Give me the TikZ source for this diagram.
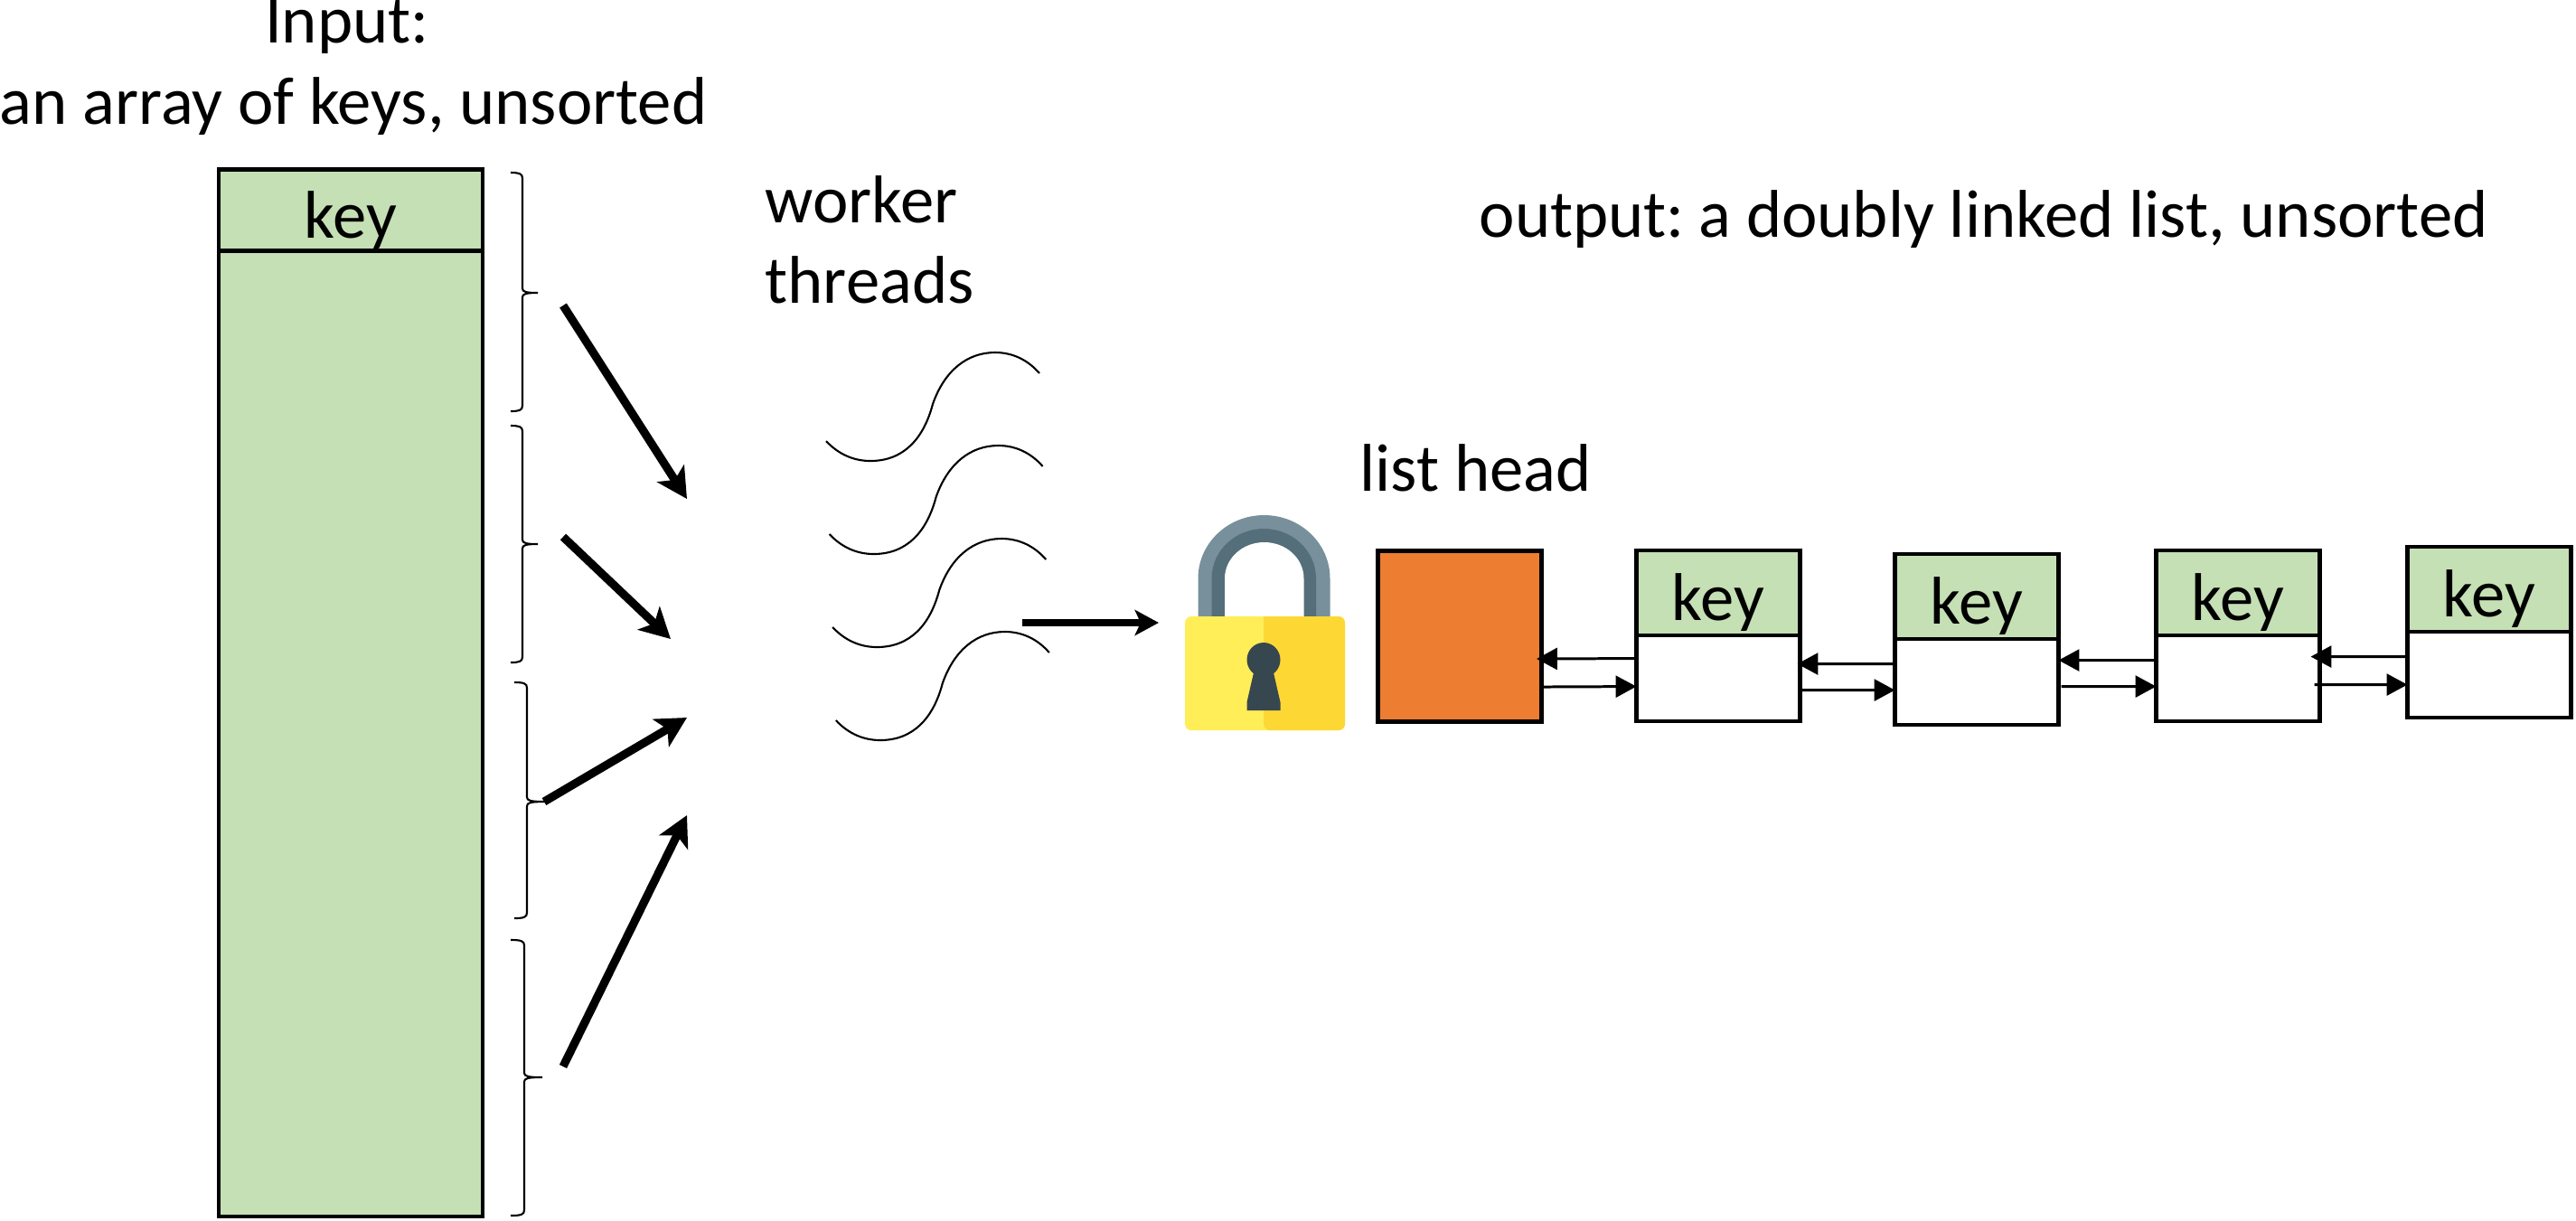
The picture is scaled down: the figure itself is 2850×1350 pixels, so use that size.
\documentclass[tikz,border=0pt]{standalone}
\usepackage{fontspec}
\setmainfont{Carlito}
\usetikzlibrary{positioning,arrows.meta}
\definecolor{keyGreen}{HTML}{C5E0B4}
\definecolor{headOrange}{HTML}{ED7D31}
\definecolor{lockLight}{HTML}{78909C}
\definecolor{lockDark}{HTML}{546E7A}
\definecolor{lockYellow}{HTML}{FFEE58}
\definecolor{lockGold}{HTML}{FDD835}
\definecolor{lockHole}{HTML}{37474F}
\begin{document}
\begin{tikzpicture}
[x=0.01cm,y=-0.01cm,
  labelDecorate/.style={inner sep=0pt,anchor=base west,font=\fontsize{21.25}{25.6}\selectfont},%
  keyDecorate/.style={shape=rectangle,draw,line width=1.2pt,fill=keyGreen,outer sep=0pt,inner sep=0pt,
    minimum width=1.81cm,minimum height=0.945cm,text height=21.6pt,text depth=4pt,
    font=\fontsize{21.25}{25.6}\selectfont},%
  cellDecorate/.style={shape=rectangle,draw,line width=1.2pt,fill=white,outer sep=0pt,
    minimum width=1.81cm,minimum height=0.945cm},%
  braceDecorate/.style={line width=0.6pt},%
  threadDecorate/.style={line width=0.6pt},%
  fatArrow/.style={-{Stealth[length=9.5pt,width=10pt,inset=2.4pt]},line width=2.6pt},%
  thinArrow/.style={-{Triangle[length=6.5pt,width=6.8pt]},line width=0.85pt}]
\useasboundingbox (0,0) rectangle (2850,1350);
%% input array
\node (arrayKey) at (388,232.5) [keyDecorate,minimum width=2.92cm,minimum height=0.89cm] {key};
\node (arrayBody) [cellDecorate,fill=keyGreen,below=0pt of arrayKey,minimum width=2.92cm,minimum height=10.68cm] {};
\node (inputLabel) at (391,75) [labelDecorate,anchor=center,align=center] {Input:\hspace*{4pt}\\an array of keys, unsorted};
%% braces
\foreach \xa/\xb/\xc/\ya/\yb/\yc in {
  565/578/595/191/324/455,
  565/578/595/471/602/733,
  569/583/604/755/887/1016,
  565/580/600/1040/1192/1345}
{
  \draw[braceDecorate] (\xa,\ya) .. controls (\xb-4,\ya) and (\xb,\ya+1) .. (\xb,\ya+6)
    -- (\xb,\yb-5) .. controls (\xb,\yb-1) and (\xb+4,\yb) .. (\xc,\yb)
    .. controls (\xb+4,\yb) and (\xb,\yb+1) .. (\xb,\yb+5)
    -- (\xb,\yc-6) .. controls (\xb,\yc-1) and (\xb-4,\yc) .. (\xa,\yc);
}
%% arrows to the threads
\foreach \arrowname/\xa/\ya/\xb/\yb in {
  1/623/338/760/552, 2/623/594/742/707, 3/602/887/760/794, 4/623/1180/760/902}
{
  \coordinate (chunk\arrowname) at (\xa,\ya);
  \coordinate (pick\arrowname) at (\xb,\yb);
  \draw[fatArrow] (chunk\arrowname) -- (pick\arrowname);
}
%% worker threads
\node (workerLabel) at (846,246) [labelDecorate] {worker};
\node (threadsLabel) at (846,335) [labelDecorate] {threads};
\foreach \i in {0,1,2,3}
{
  \draw[threadDecorate,xshift=3.6*\i*0.01cm,yshift=-103*\i*0.01cm]
    (914,488) .. controls (928,503) and (945,510) .. (963,510)
    .. controls (1000,510) and (1022,485) .. (1032,447)
    .. controls (1045,410) and (1070,390) .. (1101,390)
    .. controls (1120,390) and (1137,398) .. (1150,413);
}
\coordinate (threadsOut) at (1131,689);
\coordinate (lockIn) at (1282,689);
\draw[fatArrow,-{Stealth[length=7.5pt,width=8pt,inset=1.8pt]},line width=2.2pt] (threadsOut) -- (lockIn);
%% lock
\fill[lockLight] (1325.5,690) -- (1325.5,640) arc[x radius=73,y radius=70,start angle=180,end angle=360] -- (1471.5,690) -- cycle;
\fill[lockDark] (1340.5,690) -- (1340.5,640) arc[x radius=57.75,y radius=55,start angle=180,end angle=360] -- (1456,690) -- cycle;
\fill[white] (1355,690) -- (1355,640) arc[x radius=43.75,y radius=40,start angle=180,end angle=360] -- (1442.5,690) -- cycle;
\fill[lockYellow,rounded corners=2pt] (1311,682) rectangle (1488,808);
\fill[lockGold,rounded corners=2pt] (1398,682) -- (1488,682) -- (1488,808) -- (1398,808) [sharp corners] -- cycle;
\fill[lockHole] (1398,730) ellipse[x radius=18.5,y radius=19];
\fill[lockHole] (1388,740) -- (1408,740) -- (1416.5,777) -- (1416.5,786) -- (1379.5,786) -- (1379.5,777) -- cycle;
%% list
\node (listLabel) at (1504,543) [labelDecorate] {list head};
\node (outputLabel) at (1636,262) [labelDecorate] {output:\kern-2pt{} a doubly linked list, unsorted};
\node (head) at (1615,704) [cellDecorate,fill=headOrange,minimum width=1.8cm,minimum height=1.89cm,line width=1.4pt] {};
\foreach \nodename/\x/\y in {
  1/1901/656, 2/2187/660, 3/2476/656, 4/2754/652}
{
  \node (key\nodename) at (\x,\y) [keyDecorate] {key};
  \node (cell\nodename) [cellDecorate,below=0pt of key\nodename] {};
}
%% links
\foreach \startnode/\sy/\endnode/\ey/\dx in {
  cell1.west/0.22/head.east/-0.25/-0.05, cell2.west/0.2/cell1.east/0.16/-0.03,
  cell3.west/0.2/cell2.east/0.24/0, cell4.west/0.2/cell3.east/0.24/-0.1}
{
  \draw[thinArrow] ([yshift=\sy cm]\startnode) -- ([xshift=\dx cm,yshift=\ey cm]\endnode);
}
\foreach \startnode/\sy/\endnode/\ey/\dx in {
  head.east/-0.56/cell1.west/-0.09/0, cell1.east/-0.13/cell2.west/-0.09/0,
  cell2.east/-0.05/cell3.west/-0.09/0.03, cell3.east/-0.07/cell4.west/-0.11/-0.06}
{
  \draw[thinArrow] ([xshift=\dx cm,yshift=\sy cm]\startnode) -- ([yshift=\ey cm]\endnode);
}
\end{tikzpicture}
\end{document}
